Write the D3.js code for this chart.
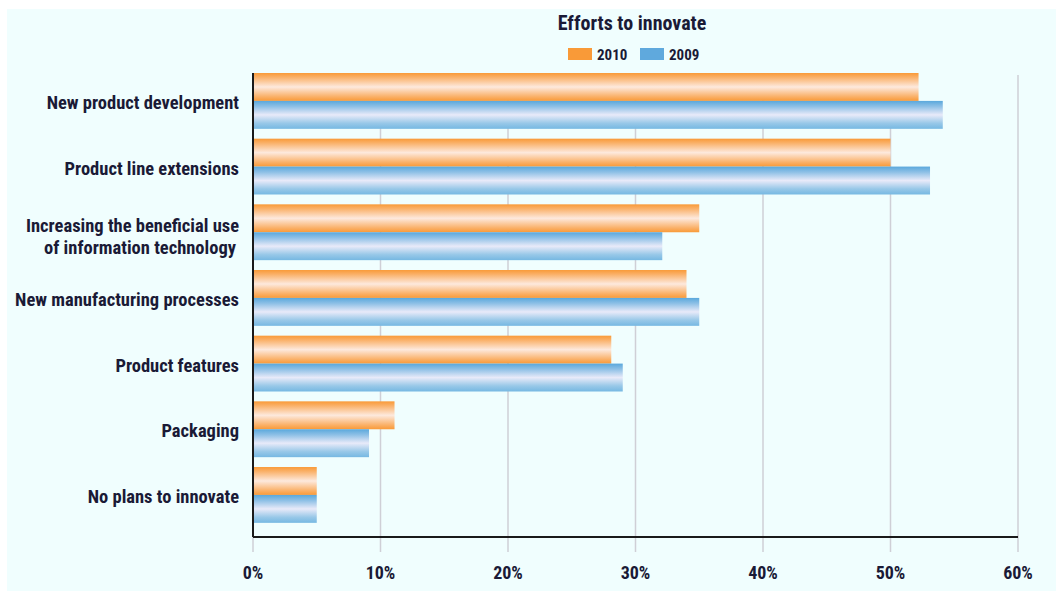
<!DOCTYPE html>
<html>
<head>
<meta charset="utf-8">
<script src="https://cdn.jsdelivr.net/npm/d3@7"></script>
<style>
  html, body { margin: 0; padding: 0; background: #ffffff; }
  svg text { font-family: "Liberation Sans Narrow", "Roboto Condensed", "DejaVu Sans Condensed", sans-serif; font-weight: bold; fill: #1a1a36; }
</style>
</head>
<body>
<div id="chart"></div>
<script>
// chart data
const categories = [
    ["New product development"],
    ["Product line extensions"],
    ["Increasing the beneficial use", "of information technology"],
    ["New manufacturing processes"],
    ["Product features"],
    ["Packaging"],
    ["No plans to innovate"]
];
const values2010 = [52.2, 50.0, 35.0, 34.0, 28.1, 11.1, 5.0];
const values2009 = [54.1, 53.1, 32.1, 35.0, 29.0, 9.1, 5.0];
const series = ["2010", "2009"];
const xTicks = [0, 10, 20, 30, 40, 50, 60];

const width = 1056, height = 596;
const plot = { left: 253, right: 1018, top: 73, bottom: 537 };
const groupStep = 65.67, groupPad = 0.15;

const svg = d3.select("#chart")
    .append("svg")
    .attr("width", width)
    .attr("height", height);

// panel background
svg.append("rect")
    .attr("x", 7).attr("y", 9)
    .attr("width", width - 7).attr("height", 582)
    .attr("fill", "#f0fefe");

// gradients for the shiny bars
const defs = svg.append("defs");
function addGradient(id, stops) {
    const g = defs.append("linearGradient")
        .attr("id", id)
        .attr("x1", 0).attr("y1", 0).attr("x2", 0).attr("y2", 1);
    stops.forEach(([o, c]) => g.append("stop").attr("offset", o).attr("stop-color", c));
}
addGradient("grad2010", [[0, "#f99a38"], [0.15, "#fab067"], [0.5, "#fde9dd"], [0.85, "#fab067"], [1, "#f99a38"]]);
addGradient("grad2009", [[0, "#5aa8dc"], [0.2, "#8ec0e6"], [0.5, "#e8eaf9"], [0.8, "#98c8e8"], [1, "#76b8e2"]]);

const x = d3.scaleLinear().domain([0, 60]).range([plot.left, plot.right]);
const y = d3.scaleBand()
    .domain(d3.range(categories.length))
    .range([plot.top, plot.top + groupStep * (categories.length - groupPad)])
    .paddingInner(groupPad).paddingOuter(0);
const ySeries = d3.scaleBand().domain(series).range([0, y.bandwidth()]);

// grid lines
svg.append("g")
    .selectAll("line")
    .data(xTicks)
    .join("line")
    .attr("x1", d => x(d)).attr("x2", d => x(d))
    .attr("y1", plot.top + 2).attr("y2", plot.bottom + 15)
    .attr("stroke", "#cfcfd6")
    .attr("stroke-width", 1.5);

// bars
const groups = svg.append("g")
    .selectAll("g")
    .data(categories.map((c, i) => ({ i, vals: [values2010[i], values2009[i]] })))
    .join("g")
    .attr("transform", d => `translate(0,${y(d.i)})`);

groups.selectAll("rect")
    .data(d => d.vals.map((v, k) => ({ key: series[k], v })))
    .join("rect")
    .attr("x", x(0))
    .attr("y", d => ySeries(d.key))
    .attr("width", d => x(d.v) - x(0))
    .attr("height", ySeries.bandwidth())
    .attr("fill", d => d.key === "2010" ? "url(#grad2010)" : "url(#grad2009)");

// axes lines
svg.append("line")
    .attr("x1", plot.left).attr("x2", plot.left)
    .attr("y1", plot.top).attr("y2", plot.bottom)
    .attr("stroke", "#1a1a1a").attr("stroke-width", 2);
svg.append("line")
    .attr("x1", plot.left).attr("x2", plot.right)
    .attr("y1", plot.bottom).attr("y2", plot.bottom)
    .attr("stroke", "#1a1a1a").attr("stroke-width", 2);

// x tick labels
svg.append("g")
    .selectAll("text")
    .data(xTicks)
    .join("text")
    .attr("x", d => x(d))
    .attr("y", 579)
    .attr("text-anchor", "middle")
    .attr("font-size", 18)
    .text(d => d + "%");

// category labels
svg.append("g")
    .selectAll("text")
    .data(categories.map((c, i) => ({ c, i })))
    .join("text")
    .attr("text-anchor", "end")
    .attr("font-size", 18.5)
    .each(function (d) {
        const t = d3.select(this);
        const cy = y(d.i) + y.bandwidth() / 2;
        const n = d.c.length;
        d.c.forEach((line, k) => {
            t.append("tspan")
                .attr("x", k === 0 ? 239 : 236)
                .attr("y", cy + 8 + (n > 1 ? 3 : 0) + (k - (n - 1) / 2) * 22)
                .text(line);
        });
    });

// title
svg.append("text")
    .attr("x", 632).attr("y", 30)
    .attr("text-anchor", "middle")
    .attr("font-size", 20)
    .text("Efforts to innovate");

// legend
const legend = svg.append("g");
const legendItems = [
    { key: "2010", color: "#f99a38", x: 568 },
    { key: "2009", color: "#5fa9dd", x: 640 }
];
legend.selectAll("rect")
    .data(legendItems)
    .join("rect")
    .attr("x", d => d.x).attr("y", 48)
    .attr("width", 24).attr("height", 12)
    .attr("fill", d => d.color);
legend.selectAll("text")
    .data(legendItems)
    .join("text")
    .attr("x", d => d.x + 29).attr("y", 60)
    .attr("font-size", 15)
    .text(d => d.key);
</script>
</body>
</html>
